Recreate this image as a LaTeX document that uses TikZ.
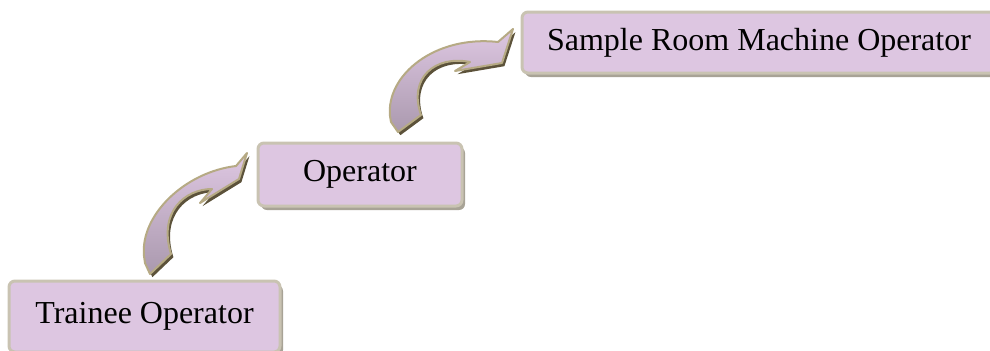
\documentclass[tikz,border=0pt]{standalone}
\usepackage{fontspec}
\setmainfont{Liberation Serif}
\usetikzlibrary{shadows}
\definecolor{boxfill}{RGB}{221,198,225}
\definecolor{boxline}{RGB}{201,195,178}
\definecolor{boxshadow}{RGB}{168,163,150}
\definecolor{arrowlight}{RGB}{222,199,226}
\definecolor{arrowdark}{RGB}{170,153,174}
\definecolor{arrowline}{RGB}{182,170,132}
\definecolor{arrowshadow}{RGB}{92,82,58}
\begin{document}
\begin{tikzpicture}[x=0.5pt,y=-0.5pt,
  stagebox/.style={draw=boxline, line width=1.5pt, fill=boxfill, rounded corners=3pt,
    inner sep=0pt, font=\fontsize{16}{19}\selectfont,
    drop shadow={shadow xshift=1.5pt, shadow yshift=-2pt, fill=boxshadow, opacity=1}},
  bentarrow/.style={draw=arrowline, line width=1pt, line join=round,
    top color=arrowlight, middle color=arrowlight, bottom color=arrowdark,
    preaction={fill=arrowshadow, transform canvas={xshift=1.2pt,yshift=-1.6pt}}}]
\useasboundingbox (0,0) rectangle (990,350);
\clip (0,0) rectangle (990,350);

% lower arrow
\path[bentarrow] (150,274) -- (145,263) -- (144,256)
  .. controls (140,215) and (185,172) .. (236,166)
  -- (247,153) -- (239,179) -- (200,203) -- (212,189)
  .. controls (185,189) and (158,212) .. (171,254) -- cycle;

% upper arrow
\path[bentarrow] (398,132) -- (391,122) -- (390,116)
  .. controls (386,75) and (435,35) .. (498,42)
  -- (513,29) -- (502,63) -- (455,71) -- (470,62)
  .. controls (435,55) and (408,78) .. (421,115) -- cycle;

\node[stagebox, minimum width=135.5pt, minimum height=35.5pt] (trainee) at (144.5,316.5) {Trainee Operator};
\node[stagebox, minimum width=102pt, minimum height=31.5pt] (operator) at (360,174.5) {Operator};
\node[stagebox, minimum width=237pt, minimum height=30.5pt] (sample) at (759,42.5) {Sample Room Machine Operator};
\end{tikzpicture}
\end{document}
